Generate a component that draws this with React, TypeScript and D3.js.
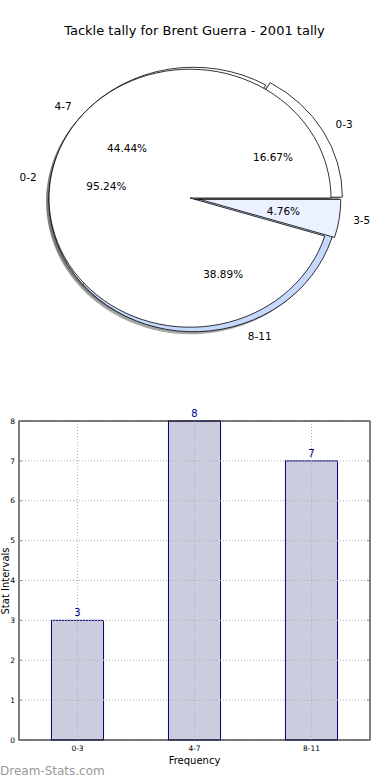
import React from 'react';
import * as d3 from 'd3';

const title = 'Tackle tally for Brent Guerra - 2001 tally';

// outer pie (frequency groups)
const outerLabels = ['0-3', '4-7', '8-11'];
const outerValues = [3, 8, 7];
const outerColors = ['#ffffff', '#ffffff', '#c6d8fc'];
const outerExplode = [0.035, 0, 0];

// inner pie (stat groups)
const innerLabels = ['0-2', '3-5'];
const innerValues = [20, 1];
const innerColors = ['#ffffff', '#ebf1ff'];
const innerExplode = [0, 0.07];

// bar chart
const barCats = ['0-3', '4-7', '8-11'];
const barValues = [3, 8, 7];
const yTicks = [0, 1, 2, 3, 4, 5, 6, 7, 8];

const W = 390;
const H = 780;
const cx = 190;
const cy = 198;
const rx = 141;
const ry = 129;

type Slice = { label: string; value: number; color: string; explode: number; a0: number; a1: number; pct: number };
type Layout = { r: number; dx: number; dy: number };

// the outer pie sits a touch larger and lower-right of the inner one
const outerLayout: Layout = { r: 1.025, dx: 3.5, dy: 1.5 };
const innerLayout: Layout = { r: 1, dx: 0, dy: 0 };

function buildSlices(labels: string[], values: number[], colors: string[], explode: number[]): Slice[] {
  // matplotlib style: start at 0 deg, go counter-clockwise
  const pie = d3.pie<number>().sort(null).startAngle(0).endAngle(2 * Math.PI);
  const total = d3.sum(values);
  return pie(values).map((p, i) => ({
    label: labels[i],
    value: values[i],
    color: colors[i],
    explode: explode[i],
    a0: p.startAngle,
    a1: p.endAngle,
    pct: (values[i] / total) * 100,
  }));
}

const outer = buildSlices(outerLabels, outerValues, outerColors, outerExplode);
const inner = buildSlices(innerLabels, innerValues, innerColors, innerExplode);

// d3.arc measures clockwise from 12 o'clock; convert math angle
const arc = d3.arc<any>().innerRadius(0).outerRadius(1);
function wedgePath(s: Slice) {
  return arc({ startAngle: Math.PI / 2 - s.a1, endAngle: Math.PI / 2 - s.a0 }) as string;
}

function offset(s: Slice, L: Layout) {
  const mid = (s.a0 + s.a1) / 2;
  return [s.explode * L.r * Math.cos(mid), s.explode * L.r * Math.sin(mid)];
}

function pt(s: Slice, L: Layout, dist: number) {
  const mid = (s.a0 + s.a1) / 2;
  const [ex, ey] = offset(s, L);
  const d = dist * L.r;
  return [cx + L.dx + rx * (ex + d * Math.cos(mid)), cy + L.dy - ry * (ey + d * Math.sin(mid)), Math.cos(mid)];
}

function Wedge({ s, L, shadow }: { s: Slice; L: Layout; shadow?: boolean }) {
  const [ex, ey] = offset(s, L);
  const sh = shadow ? -0.02 : 0;
  const tx = cx + L.dx + rx * (ex + sh);
  const ty = cy + L.dy - ry * (ey + sh);
  return (
    <path
      d={wedgePath(s)}
      transform={`translate(${tx},${ty}) scale(${rx * L.r},${ry * L.r})`}
      fill={shadow ? '#4d4d4d' : s.color}
      fillOpacity={shadow ? 0.5 : 1}
      stroke={shadow ? 'none' : '#000'}
      strokeWidth={0.8}
      vectorEffect="non-scaling-stroke"
    />
  );
}

function PieLabels({ s, L }: { s: Slice; L: Layout }) {
  const [lx, ly, c] = pt(s, L, 1.1);
  const [px, py] = pt(s, L, 0.6);
  return (
    <g fontSize={10.5}>
      <text x={lx} y={ly} dy="0.35em" textAnchor={c > 0 ? 'start' : 'end'}>{s.label}</text>
      <text x={px} y={py} dy="0.35em" textAnchor="middle">{s.pct.toFixed(2)}%</text>
    </g>
  );
}

export default function App() {
  const x0 = 19, x1 = 370, yTop = 421, yBot = 740;
  const x = d3.scaleBand<string>().domain(barCats).range([x0, x1]).padding(0);
  const y = d3.scaleLinear().domain([0, 8]).range([yBot, yTop]);
  const bw = x.bandwidth() * 0.445;

  return (
    <svg width={W} height={H} style={{ position: 'absolute', left: 0, top: 0 }} fontFamily="DejaVu Sans, sans-serif">
      <rect width={W} height={H} fill="#fff" />
      <text x={194.5} y={35} textAnchor="middle" fontSize={13}>{title}</text>

      {/* shadows first, then wedges */}
      {outer.map((s, i) => <Wedge key={'os' + i} s={s} L={outerLayout} shadow />)}
      {inner.map((s, i) => <Wedge key={'is' + i} s={s} L={innerLayout} shadow />)}
      {outer.map((s, i) => <Wedge key={'o' + i} s={s} L={outerLayout} />)}
      {inner.map((s, i) => <Wedge key={'i' + i} s={s} L={innerLayout} />)}
      {outer.map((s, i) => <PieLabels key={'ol' + i} s={s} L={outerLayout} />)}
      {inner.map((s, i) => <PieLabels key={'il' + i} s={s} L={innerLayout} />)}

      {/* bar chart */}
      {barCats.map((c, i) => (
        <rect key={c} x={x(c)! + x.bandwidth() / 2 - bw / 2} y={y(barValues[i])} width={bw}
          height={yBot - y(barValues[i])} fill="#ccccdf" stroke="#00007a" strokeWidth={1} />
      ))}
      <g stroke="#b0b0b0" strokeDasharray="1,2" strokeWidth={1}>
        {yTicks.map(t => <line key={'gy' + t} x1={x0} x2={x1} y1={y(t)} y2={y(t)} />)}
        {barCats.map(c => <line key={'gx' + c} x1={x(c)! + x.bandwidth() / 2} x2={x(c)! + x.bandwidth() / 2} y1={yTop} y2={yBot} />)}
      </g>
      <rect x={x0} y={yTop} width={x1 - x0} height={yBot - yTop} fill="none" stroke="#000" strokeWidth={1} />
      {yTicks.map(t => (
        <g key={'t' + t}>
          <line x1={x0} x2={x0 + 3} y1={y(t)} y2={y(t)} stroke="#888" />
          <line x1={x1 - 3} x2={x1} y1={y(t)} y2={y(t)} stroke="#888" />
          <text x={15} y={y(t)} dy="0.35em" textAnchor="end" fontSize={7.5}>{t}</text>
        </g>
      ))}
      {barCats.map((c, i) => (
        <g key={'xl' + c}>
          <text x={x(c)! + x.bandwidth() / 2} y={751} textAnchor="middle" fontSize={7.5}>{c}</text>
          <text x={x(c)! + x.bandwidth() / 2} y={y(barValues[i]) - 4} textAnchor="middle" fontSize={10} fill="#00008b">{barValues[i]}</text>
        </g>
      ))}
      <text x={194.5} y={764} textAnchor="middle" fontSize={10}>Frequency</text>
      <text transform={`translate(9,581) rotate(-90)`} textAnchor="middle" fontSize={10}>Stat Intervals</text>
      <text x={0} y={775} fontSize={12} fill="#999">Dream-Stats.com</text>
    </svg>
  );
}
